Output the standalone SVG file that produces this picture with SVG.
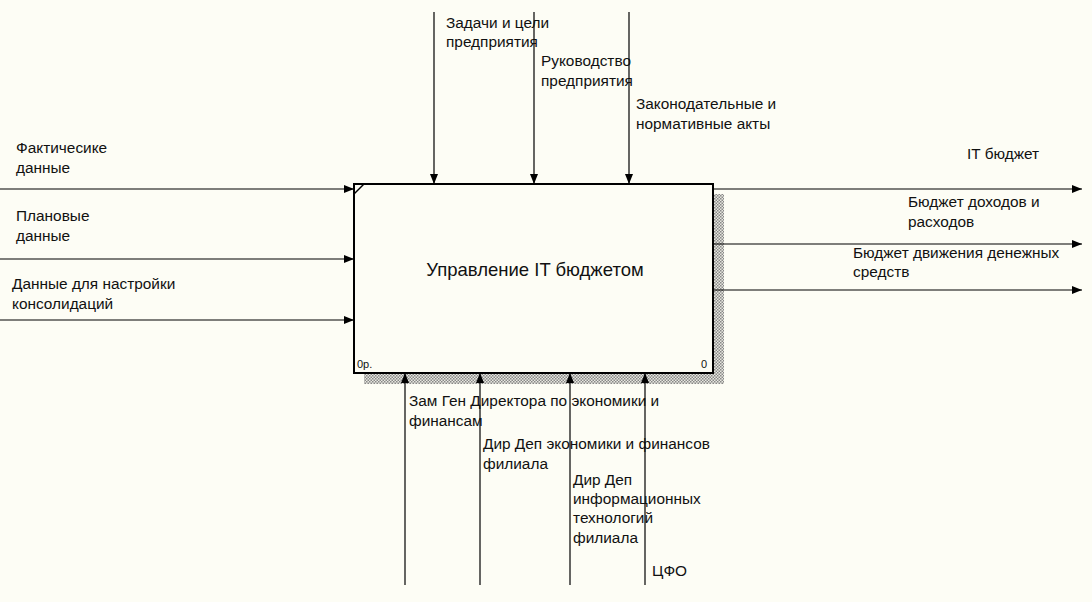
<svg xmlns="http://www.w3.org/2000/svg" width="1092" height="602" viewBox="0 0 1092 602">
<style>
.l{stroke:#000;stroke-width:1.2;fill:none;marker-end:url(#a)}
text{font-family:"Liberation Sans",Arial,sans-serif;font-size:15.4px;fill:#111}
text.t{font-size:18.5px}
text.s{font-size:11px}
</style>
<defs>
<marker id="a" viewBox="0 0 10 10" refX="10" refY="5" markerWidth="10" markerHeight="10" markerUnits="userSpaceOnUse" orient="auto"><path d="M0,1L10,5L0,9z" fill="#000"/></marker>
<pattern id="h" width="3" height="3" patternUnits="userSpaceOnUse"><rect width="3" height="3" fill="#e8e8e0"/><rect width="1.5" height="1.5" fill="#888"/><rect x="1.5" y="1.5" width="1.5" height="1.5" fill="#888"/></pattern>
</defs>
<rect width="1092" height="602" fill="#fdfdf5"/>
<g id="node-main">
<rect x="364" y="194" width="360" height="190" fill="url(#h)"/>
<rect x="354" y="184" width="359" height="189" fill="#fdfdf5" stroke="#000" stroke-width="2"/>
<line x1="354" y1="194" x2="364" y2="184" stroke="#000" stroke-width="1.5"/>
<text class="t" x="535" y="276" text-anchor="middle">Управление IT бюджетом</text>
<text class="s" x="357" y="368">0р.</text>
<text class="s" x="701" y="368">0</text>
</g>
<g id="connectors">
<line class="l" x1="0" y1="189" x2="354" y2="189"/>
<line class="l" x1="0" y1="259" x2="354" y2="259"/>
<line class="l" x1="0" y1="320" x2="354" y2="320"/>
<line class="l" x1="434" y1="12" x2="434" y2="184"/>
<line class="l" x1="534" y1="12" x2="534" y2="184"/>
<line class="l" x1="629" y1="12" x2="629" y2="184"/>
<line class="l" x1="713" y1="189" x2="1082" y2="189"/>
<line class="l" x1="713" y1="244" x2="1082" y2="244"/>
<line class="l" x1="713" y1="290" x2="1082" y2="290"/>
<line class="l" x1="405" y1="585" x2="405" y2="373"/>
<line class="l" x1="480" y1="585" x2="480" y2="373"/>
<line class="l" x1="570" y1="585" x2="570" y2="373"/>
<line class="l" x1="645" y1="585" x2="645" y2="373"/>
</g>
<g id="labels">
<text x="16" y="153">Фактичесике</text><text x="16" y="173">данные</text>
<text x="16" y="221">Плановые</text><text x="16" y="241">данные</text>
<text x="12" y="289">Данные для настройки</text><text x="12" y="309">консолидаций</text>
<text x="446" y="28">Задачи и цели</text><text x="446" y="47">предприятия</text>
<text x="541" y="66">Руководство</text><text x="541" y="86">предприятия</text>
<text x="636" y="109">Законодательные и</text><text x="636" y="129">нормативные акты</text>
<text x="967" y="159">IT бюджет</text>
<text x="908" y="207">Бюджет доходов и</text><text x="908" y="227">расходов</text>
<text x="853" y="258">Бюджет движения денежных</text><text x="853" y="277">средств</text>
<text x="409" y="406">Зам Ген Директора по экономики и</text><text x="409" y="426">финансам</text>
<text x="483" y="449">Дир Деп экономики и финансов</text><text x="483" y="469">филиала</text>
<text x="573" y="485">Дир Деп</text><text x="573" y="504">информационных</text><text x="573" y="523">технологий</text><text x="573" y="543">филиала</text>
<text x="652" y="576">ЦФО</text>
</g>
</svg>
